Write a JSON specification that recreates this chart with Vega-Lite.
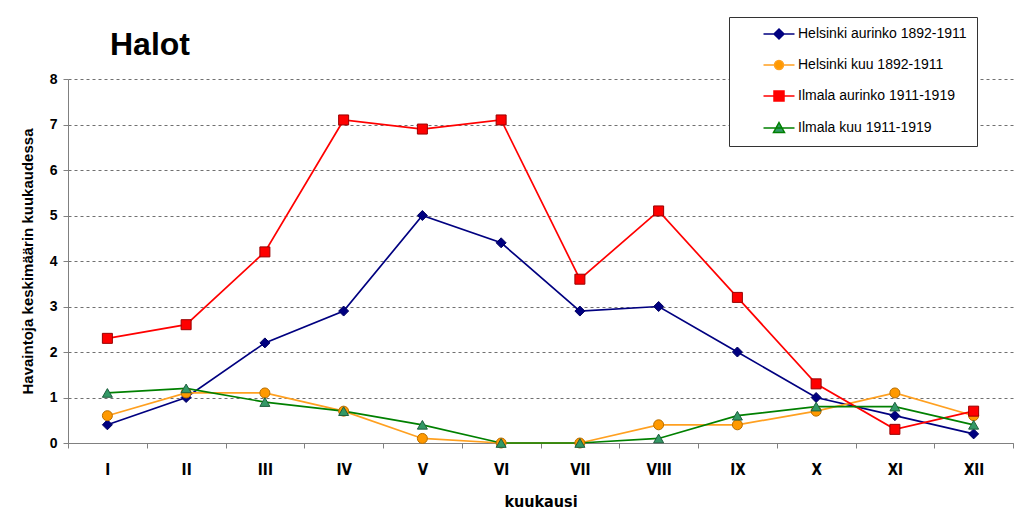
{
  "$schema": "https://vega.github.io/schema/vega-lite/v6.json",
  "autosize": "none",
  "padding": {"left": 68, "top": 79, "right": 6, "bottom": 73},
  "width": 945,
  "height": 364,
  "background": "white",
  "title": {
    "text": "Halot",
    "anchor": "start",
    "frame": "group",
    "dx": 42,
    "offset": -45,
    "fontSize": 32,
    "fontWeight": "bold",
    "font": "Liberation Sans",
    "color": "black"
  },
  "config": {
    "view": {"stroke": null},
    "font": "Liberation Sans"
  },
  "data": {
    "values": [
      {"month": "I", "series": "Helsinki aurinko 1892-1911", "value": 0.4},
      {"month": "II", "series": "Helsinki aurinko 1892-1911", "value": 1.0},
      {"month": "III", "series": "Helsinki aurinko 1892-1911", "value": 2.2},
      {"month": "IV", "series": "Helsinki aurinko 1892-1911", "value": 2.9},
      {"month": "V", "series": "Helsinki aurinko 1892-1911", "value": 5.0},
      {"month": "VI", "series": "Helsinki aurinko 1892-1911", "value": 4.4},
      {"month": "VII", "series": "Helsinki aurinko 1892-1911", "value": 2.9},
      {"month": "VIII", "series": "Helsinki aurinko 1892-1911", "value": 3.0},
      {"month": "IX", "series": "Helsinki aurinko 1892-1911", "value": 2.0},
      {"month": "X", "series": "Helsinki aurinko 1892-1911", "value": 1.0},
      {"month": "XI", "series": "Helsinki aurinko 1892-1911", "value": 0.6},
      {"month": "XII", "series": "Helsinki aurinko 1892-1911", "value": 0.2},
      {"month": "I", "series": "Helsinki kuu 1892-1911", "value": 0.6},
      {"month": "II", "series": "Helsinki kuu 1892-1911", "value": 1.1},
      {"month": "III", "series": "Helsinki kuu 1892-1911", "value": 1.1},
      {"month": "IV", "series": "Helsinki kuu 1892-1911", "value": 0.7},
      {"month": "V", "series": "Helsinki kuu 1892-1911", "value": 0.1},
      {"month": "VI", "series": "Helsinki kuu 1892-1911", "value": 0.0},
      {"month": "VII", "series": "Helsinki kuu 1892-1911", "value": 0.0},
      {"month": "VIII", "series": "Helsinki kuu 1892-1911", "value": 0.4},
      {"month": "IX", "series": "Helsinki kuu 1892-1911", "value": 0.4},
      {"month": "X", "series": "Helsinki kuu 1892-1911", "value": 0.7},
      {"month": "XI", "series": "Helsinki kuu 1892-1911", "value": 1.1},
      {"month": "XII", "series": "Helsinki kuu 1892-1911", "value": 0.6},
      {"month": "I", "series": "Ilmala aurinko 1911-1919", "value": 2.3},
      {"month": "II", "series": "Ilmala aurinko 1911-1919", "value": 2.6},
      {"month": "III", "series": "Ilmala aurinko 1911-1919", "value": 4.2},
      {"month": "IV", "series": "Ilmala aurinko 1911-1919", "value": 7.1},
      {"month": "V", "series": "Ilmala aurinko 1911-1919", "value": 6.9},
      {"month": "VI", "series": "Ilmala aurinko 1911-1919", "value": 7.1},
      {"month": "VII", "series": "Ilmala aurinko 1911-1919", "value": 3.6},
      {"month": "VIII", "series": "Ilmala aurinko 1911-1919", "value": 5.1},
      {"month": "IX", "series": "Ilmala aurinko 1911-1919", "value": 3.2},
      {"month": "X", "series": "Ilmala aurinko 1911-1919", "value": 1.3},
      {"month": "XI", "series": "Ilmala aurinko 1911-1919", "value": 0.3},
      {"month": "XII", "series": "Ilmala aurinko 1911-1919", "value": 0.7},
      {"month": "I", "series": "Ilmala kuu 1911-1919", "value": 1.1},
      {"month": "II", "series": "Ilmala kuu 1911-1919", "value": 1.2},
      {"month": "III", "series": "Ilmala kuu 1911-1919", "value": 0.9},
      {"month": "IV", "series": "Ilmala kuu 1911-1919", "value": 0.7},
      {"month": "V", "series": "Ilmala kuu 1911-1919", "value": 0.4},
      {"month": "VI", "series": "Ilmala kuu 1911-1919", "value": 0.0},
      {"month": "VII", "series": "Ilmala kuu 1911-1919", "value": 0.0},
      {"month": "VIII", "series": "Ilmala kuu 1911-1919", "value": 0.1},
      {"month": "IX", "series": "Ilmala kuu 1911-1919", "value": 0.6},
      {"month": "X", "series": "Ilmala kuu 1911-1919", "value": 0.8},
      {"month": "XI", "series": "Ilmala kuu 1911-1919", "value": 0.8},
      {"month": "XII", "series": "Ilmala kuu 1911-1919", "value": 0.4}
    ]
  },
  "encoding": {
    "x": {
      "field": "month",
      "type": "ordinal",
      "sort": ["I", "II", "III", "IV", "V", "VI", "VII", "VIII", "IX", "X", "XI", "XII"],
      "scale": {"paddingInner": 0, "paddingOuter": 0},
      "axis": {
        "title": "kuukausi",
        "labelAngle": 0,
        "tickBand": "extent",
        "tickSize": 5,
        "tickColor": "#808080",
        "domainColor": "#808080",
        "labelFont": "DejaVu Sans Condensed",
        "labelFontSize": 15,
        "labelFontWeight": "bold",
        "labelColor": "black",
        "labelPadding": 14,
        "titleFont": "DejaVu Sans Condensed",
        "titleFontSize": 16,
        "titleFontWeight": "bold",
        "titleColor": "black",
        "titlePadding": 16
      }
    },
    "y": {
      "field": "value",
      "type": "quantitative",
      "scale": {"domain": [0, 8], "nice": false},
      "axis": {
        "title": "Havaintoja keskimäärin kuukaudessa",
        "values": [0, 1, 2, 3, 4, 5, 6, 7, 8],
        "tickSize": 5,
        "tickColor": "#808080",
        "domainColor": "#808080",
        "grid": true,
        "gridColor": "#707070",
        "gridDash": [3, 3],
        "gridWidth": 1,
        "labelFontSize": 14,
        "labelFontWeight": "bold",
        "labelColor": "black",
        "labelPadding": 6,
        "titleFontSize": 15,
        "titleFontWeight": "bold",
        "titleColor": "black",
        "titlePadding": 14
      }
    }
  },
  "layer": [
    {
      "mark": {"type": "line", "strokeWidth": 1.7},
      "encoding": {
        "stroke": {
          "field": "series",
          "type": "nominal",
          "scale": {
            "domain": ["Helsinki aurinko 1892-1911", "Helsinki kuu 1892-1911", "Ilmala aurinko 1911-1919", "Ilmala kuu 1911-1919"],
            "range": ["#000080", "#FFA020", "#FF0000", "#008000"]
          },
          "legend": null
        }
      }
    },
    {
      "mark": {"type": "point", "filled": true, "opacity": 1, "strokeWidth": 1},
      "encoding": {
        "fill": {
          "field": "series",
          "type": "nominal",
          "scale": {
            "domain": ["Helsinki aurinko 1892-1911", "Helsinki kuu 1892-1911", "Ilmala aurinko 1911-1919", "Ilmala kuu 1911-1919"],
            "range": ["#000080", "#FF9900", "#FF0000", "#339966"]
          },
          "legend": null
        },
        "stroke": {
          "field": "series",
          "type": "nominal",
          "scale": {
            "domain": ["Helsinki aurinko 1892-1911", "Helsinki kuu 1892-1911", "Ilmala aurinko 1911-1919", "Ilmala kuu 1911-1919"],
            "range": ["#000060", "#B86E00", "#990000", "#1E5E3E"]
          },
          "legend": null
        },
        "shape": {
          "field": "series",
          "type": "nominal",
          "scale": {
            "domain": ["Helsinki aurinko 1892-1911", "Helsinki kuu 1892-1911", "Ilmala aurinko 1911-1919", "Ilmala kuu 1911-1919"],
            "range": ["diamond", "circle", "square", "triangle-up"]
          },
          "legend": null
        },
        "size": {"value": 100}
      }
    },
    {
      "transform": [{"filter": "datum.value < -1"}],
      "mark": {"type": "point", "filled": true, "opacity": 1, "strokeWidth": 1.5},
      "encoding": {
        "fill": {
          "field": "series",
          "type": "nominal",
          "scale": {
            "domain": ["Helsinki aurinko 1892-1911", "Helsinki kuu 1892-1911", "Ilmala aurinko 1911-1919", "Ilmala kuu 1911-1919"],
            "range": ["#000080", "#FF9900", "#FF0000", "#339966"]
          },
          "legend": {
            "title": null,
            "orient": "none",
            "legendX": 661,
            "legendY": -62,
            "padding": 10,
            "fillColor": "white",
            "strokeColor": "#333333",
            "symbolSize": 100,
            "symbolStrokeWidth": 1.5,
            "symbolOffset": 33,
            "labelOffset": 12,
            "labelFontSize": 14,
            "labelColor": "black",
            "labelLimit": 300,
            "rowPadding": 15
          }
        },
        "stroke": {
          "field": "series",
          "type": "nominal",
          "scale": {
            "domain": ["Helsinki aurinko 1892-1911", "Helsinki kuu 1892-1911", "Ilmala aurinko 1911-1919", "Ilmala kuu 1911-1919"],
            "range": ["#000080", "#FFA020", "#FF0000", "#008000"]
          }
        },
        "shape": {
          "field": "series",
          "type": "nominal",
          "scale": {
            "domain": ["Helsinki aurinko 1892-1911", "Helsinki kuu 1892-1911", "Ilmala aurinko 1911-1919", "Ilmala kuu 1911-1919"],
            "range": [
              "M-3.1,0H3.1M0,-1L1,0L0,1L-1,0Z",
              "M-3.1,0H-0.9M0.9,0H3.1M-0.9,0A0.9,0.9,0,1,0,0.9,0A0.9,0.9,0,1,0,-0.9,0Z",
              "M-3.1,0H3.1M-1,-1H1V1H-1Z",
              "M-3.1,0H3.1M0,-1.1L1.1,0.9L-1.1,0.9Z"
            ]
          }
        },
        "size": {"value": 100}
      }
    }
  ],
  "resolve": {
    "scale": {"stroke": "independent", "shape": "independent"},
    "legend": {"fill": "independent", "stroke": "independent", "shape": "independent"}
  }
}
